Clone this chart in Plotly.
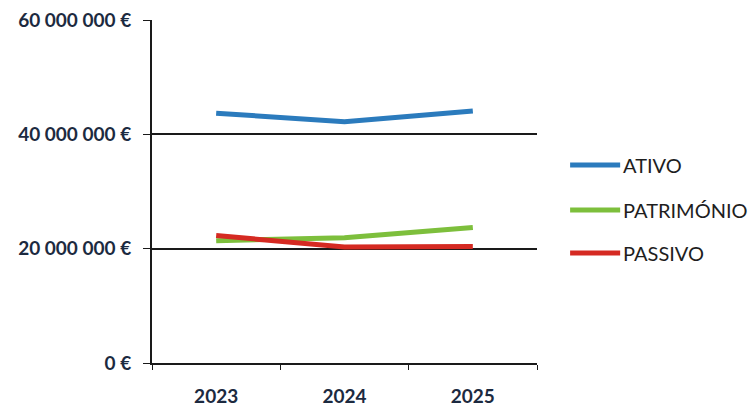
import plotly.graph_objects as go

# Balance sheet totals per year (EUR)
years = ["2023", "2024", "2025"]
ativo = [43_700_000, 42_200_000, 44_100_000]
patrimonio = [21_400_000, 21_900_000, 23_700_000]
passivo = [22_300_000, 20_300_000, 20_400_000]

series_names = ["ATIVO", "PATRIMÓNIO", "PASSIVO"]
series_values = [ativo, patrimonio, passivo]
series_colors = ["#2b7bbd", "#7dbf3c", "#d52a22"]

# Vertical placement (paper units) of each key row on the right
legend_rows = [0.577, 0.446, 0.321]

fig = go.Figure()
for name, vals, col in zip(series_names, series_values, series_colors):
    fig.add_trace(go.Scatter(
        x=years, y=vals, name=name, mode="lines",
        line=dict(color=col, width=5),
        showlegend=False,
    ))

# Key: a coloured stroke followed by the series name
for name, col, yr in zip(series_names, series_colors, legend_rows):
    fig.add_shape(type="line", xref="paper", yref="paper",
                  x0=1.086, x1=1.216, y0=yr, y1=yr,
                  line=dict(color=col, width=5))
    fig.add_annotation(xref="paper", yref="paper", x=1.218, y=yr,
                       xanchor="left", yanchor="middle", showarrow=False,
                       text=name,
                       font=dict(family="Lato", size=20, color="#1e1e1e"))

fig.update_layout(
    width=748, height=407,
    margin=dict(l=152, r=211, t=20, b=44),
    paper_bgcolor="white", plot_bgcolor="white",
    separators=", ",
    showlegend=False,
    font=dict(family="Lato"),
)

fig.update_xaxes(
    type="category", range=[-0.5, 2.5],
    showline=True, linecolor="#1a1a1a", linewidth=2,
    ticks="outside", tickson="boundaries", ticklen=5, tickcolor="#1a1a1a",
    tickfont=dict(family="Lato", size=19, color="#1c2a40", weight="bold"),
    ticklabelstandoff=15,
    showgrid=False, zeroline=False, automargin=False,
)
fig.update_yaxes(
    range=[0, 60_000_000], dtick=20_000_000,
    tickformat=",.0f", ticksuffix=" €",
    showline=True, linecolor="#1a1a1a", linewidth=2,
    showgrid=True, gridcolor="#1a1a1a", gridwidth=2,
    ticks="outside", ticklen=7, tickcolor="#1a1a1a",
    tickfont=dict(family="Lato", size=19, color="#1c2a40", weight="bold"),
    ticklabelstandoff=8,
    zeroline=False, automargin=False,
)

fig.write_html("out.html")
